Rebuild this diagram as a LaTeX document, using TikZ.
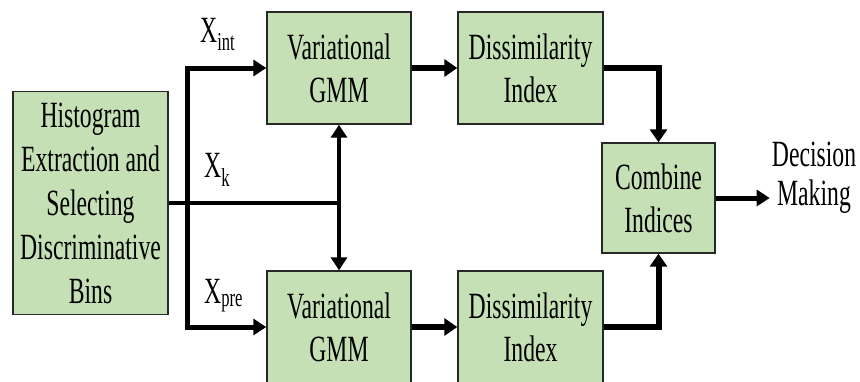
\documentclass[tikz,border=0pt]{standalone}
\usepackage{fontspec}
\setmainfont[FakeStretch=0.64]{Liberation Serif}
\usetikzlibrary{arrows.meta}
\definecolor{boxgreen}{RGB}{197,224,180}
\definecolor{boxedge}{RGB}{40,40,40}
\begin{document}
\begin{tikzpicture}[x=1pt,y=-1pt,
  blk/.style={draw=boxedge,line width=1.4pt,fill=boxgreen,align=center,inner sep=0pt,
    font=\fontsize{37}{43}\selectfont},
  lbl/.style={inner sep=0pt,anchor=base west,font=\fontsize{37}{43}\selectfont},
  wire/.style={line width=4.5pt},
  arr/.style={line width=4.5pt,-{Triangle[length=13pt,width=16pt]}},
  thk/.style={line width=6pt,-{Triangle[length=13pt,width=17pt]}}]
\useasboundingbox (0,0) rectangle (860,381);
\node[blk,minimum width=155pt,minimum height=223pt,font=\fontsize{37}{44}\selectfont] (hist) at (90.5,203)
  {Histogram\\Extraction and\\Selecting\\Discriminative\\Bins};
\node[blk,minimum width=144pt,minimum height=112pt] (vg1) at (339,68) {Variational\\GMM};
\node[blk,minimum width=144pt,minimum height=112pt] (vg2) at (339,327) {Variational\\GMM};
\node[blk,minimum width=145pt,minimum height=112pt] (di1) at (530.5,68) {Dissimilarity\\Index};
\node[blk,minimum width=145pt,minimum height=112pt] (di2) at (530.5,327) {Dissimilarity\\Index};
\node[blk,minimum width=113pt,minimum height=110pt] (comb) at (658.5,198) {Combine\\Indices};
\node[align=center,inner sep=2pt,font=\fontsize{37}{39}\selectfont] (dec) at (814,178) {Decision\\Making};
\node[lbl] (xint) at (200,42) {X\textsubscript{int}};
\node[lbl] (xk) at (204,177) {X\textsubscript{k}};
\node[lbl] (xpre) at (204,303) {X\textsubscript{pre}};
\coordinate (sp) at (187,203);
\coordinate (jn) at (vg1.south |- hist.east);
% histogram output to both GMMs (middle path)
\draw[wire,line width=4pt] (hist.east) -- (jn);
\draw[arr,line width=4pt] (jn) -- (vg1.south);
\draw[arr,line width=4pt] (jn) -- (vg2.north);
% split branch
\draw[arr,line width=5pt] (sp) |- (vg1.west);
\draw[arr,line width=5pt] (sp) |- (vg2.west);
% GMM -> Dissimilarity
\draw[thk] (vg1.east) -- (di1.west);
\draw[thk] (vg2.east) -- (di2.west);
% Dissimilarity -> Combine
\draw[thk] (di1.east) -| (comb.north);
\draw[thk] (di2.east) -| (comb.south);
% Combine -> Decision
\draw[arr,line width=5pt] (comb.east) -- (comb.east -| dec.west);
\end{tikzpicture}
\end{document}
